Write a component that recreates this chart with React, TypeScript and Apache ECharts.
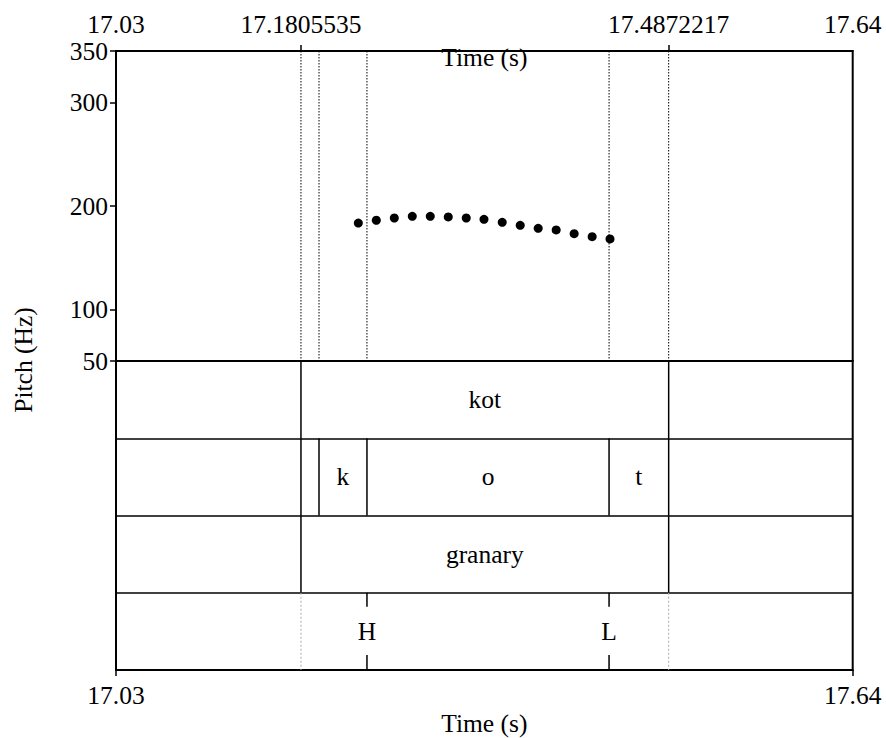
import React, { useEffect, useRef } from "react";
import * as echarts from "echarts";

// ---- time axis ----
const T_MIN = 17.0263;
const T_MAX = 17.6407;
const B1 = 17.1805535;
const B2 = 17.4872217;

const topTickValues = [T_MIN, B1, B2, T_MAX];
const topTickLabels = ["17.03", "17.1805535", "17.4872217", "17.64"];
const topTickMarks = [B1, B2];
const bottomTickValues = [T_MIN, T_MAX];
const bottomTickLabels = ["17.03", "17.64"];

// ---- pitch axis ----
const pitchTicks = [50, 100, 200, 300, 350];

// ---- pitch track ----
const pitchTimes = [
  17.2284, 17.2434, 17.2584, 17.2734, 17.2884, 17.3034, 17.3184, 17.3332,
  17.3484, 17.3634, 17.3784, 17.3934, 17.4084, 17.4234, 17.4383,
];
const pitchValues = [
  183.5, 186.2, 188.4, 190.0, 190.0, 189.4, 188.4, 187.1, 184.2, 181.3, 178.4,
  176.8, 173.2, 170.3, 168.1,
];

// ---- TextGrid tiers: [start, end, label] ----
const syllableTier: [number, number, string][] = [
  [T_MIN, B1, ""],
  [B1, B2, "kot"],
  [B2, T_MAX, ""],
];
const segmentTier: [number, number, string][] = [
  [T_MIN, B1, ""],
  [B1, 17.1956, ""],
  [17.1956, 17.2356, "k"],
  [17.2356, 17.4375, "o"],
  [17.4375, B2, "t"],
  [B2, T_MAX, ""],
];
const glossTier: [number, number, string][] = [
  [T_MIN, B1, ""],
  [B1, B2, "granary"],
  [B2, T_MAX, ""],
];
// point tier: [time, label]
const toneTier: [number, string][] = [
  [17.2356, "H"],
  [17.4375, "L"],
];
const toneTierGuides = [B1, B2];
// dotted lines through the pitch panel
const pitchGuides = [B1, 17.1956, 17.2356, 17.4375, B2];

const FONT = "Liberation Serif";
const FS = 25.5;

export default function App() {
  const ref = useRef<HTMLDivElement>(null);

  useEffect(() => {
    if (!ref.current) return;
    const chart = echarts.init(ref.current, undefined, { renderer: "svg" });

    const tiers = [
      { row: 3, items: syllableTier },
      { row: 2, items: segmentTier },
      { row: 1, items: glossTier },
    ];
    const intervalData: number[][] = [];
    const intervalLabels: string[] = [];
    tiers.forEach((t) => {
      t.items.forEach(([s, e, lab]) => {
        intervalData.push([s, e, t.row]);
        intervalLabels.push(lab);
      });
    });

    const nearestLabel = (v: number, vals: number[], labs: string[]) => {
      let best = 0;
      for (let i = 1; i < vals.length; i++) {
        if (Math.abs(vals[i] - v) < Math.abs(vals[best] - v)) best = i;
      }
      return labs[best];
    };

    const txt = (text: string, x: number, y: number, extra: any = {}) => ({
      type: "text",
      x,
      y,
      ...extra,
      style: {
        text,
        fontSize: FS,
        fontFamily: FONT,
        fill: "#000",
        align: "center",
        verticalAlign: "middle",
      },
    });

    const option: any = {
      animation: false,
      backgroundColor: "#fff",
      textStyle: { fontFamily: FONT, color: "#000", fontSize: FS },
      grid: [
        {
          left: 116,
          top: 51,
          width: 736.7,
          height: 310,
          show: true,
          borderColor: "#000",
          borderWidth: 2,
          outerBoundsMode: "none",
        },
        {
          left: 116,
          top: 361,
          width: 736.7,
          height: 309,
          show: true,
          borderColor: "#000",
          borderWidth: 2,
          outerBoundsMode: "none",
        },
      ],
      xAxis: [
        {
          type: "value",
          gridIndex: 0,
          position: "top",
          min: T_MIN,
          max: T_MAX,
          axisLine: { show: true, lineStyle: { color: "#000", width: 2 } },
          axisTick: {
            show: true,
            customValues: topTickMarks,
            length: 6,
            lineStyle: { color: "#000", width: 1.5 },
          },
          axisLabel: {
            show: true,
            customValues: topTickValues,
            margin: 14,
            fontSize: FS,
            fontFamily: FONT,
            color: "#000",
            formatter: (v: number) => nearestLabel(v, topTickValues, topTickLabels),
          },
          splitLine: { show: false },
        },
        {
          type: "value",
          gridIndex: 1,
          position: "bottom",
          min: T_MIN,
          max: T_MAX,
          name: "Time (s)",
          nameLocation: "middle",
          nameGap: 40,
          nameTextStyle: { fontSize: FS, fontFamily: FONT, color: "#000" },
          axisLine: { show: true, lineStyle: { color: "#000", width: 2 } },
          axisTick: {
            show: true,
            customValues: bottomTickValues,
            length: 6,
            lineStyle: { color: "#000", width: 1.5 },
          },
          axisLabel: {
            show: true,
            customValues: bottomTickValues,
            margin: 12,
            fontSize: FS,
            fontFamily: FONT,
            color: "#000",
            formatter: (v: number) => nearestLabel(v, bottomTickValues, bottomTickLabels),
          },
          splitLine: { show: false },
        },
      ],
      yAxis: [
        {
          type: "value",
          gridIndex: 0,
          min: 50,
          max: 350,
          axisLine: { show: true, lineStyle: { color: "#000", width: 2 } },
          axisTick: {
            show: true,
            customValues: pitchTicks,
            length: 6,
            lineStyle: { color: "#000", width: 1.5 },
          },
          axisLabel: {
            show: true,
            customValues: pitchTicks,
            margin: 8,
            fontSize: FS,
            fontFamily: FONT,
            color: "#000",
          },
          splitLine: { show: false },
        },
        {
          type: "value",
          gridIndex: 1,
          min: 0,
          max: 4,
          interval: 1,
          axisLine: { show: true, lineStyle: { color: "#000", width: 2 } },
          axisTick: { show: false },
          axisLabel: { show: false },
          splitLine: { show: true, lineStyle: { color: "#000", width: 1.5 } },
        },
      ],
      graphic: [
        txt("Pitch (Hz)", 23, 360, { rotation: Math.PI / 2 }),
        txt("Time (s)", 484.4, 57),
      ],
      series: [
        {
          type: "custom",
          xAxisIndex: 0,
          yAxisIndex: 0,
          data: pitchGuides.map((t) => [t, 50]),
          encode: { x: 0, y: 1 },
          silent: true,
          z: 1,
          renderItem: (params: any, api: any) => {
            const pb = api.coord([api.value(0), 50]);
            const pt = api.coord([api.value(0), 350]);
            return {
              type: "line",
              shape: { x1: pb[0], y1: pt[1], x2: pb[0], y2: pb[1] },
              style: { stroke: "#000", lineWidth: 1, lineDash: [1.5, 1.5] },
            };
          },
        },
        {
          type: "scatter",
          xAxisIndex: 0,
          yAxisIndex: 0,
          data: pitchTimes.map((t, i) => [t, pitchValues[i]]),
          symbol: "circle",
          symbolSize: 9,
          itemStyle: { color: "#000", opacity: 1 },
          silent: true,
          z: 3,
        },
        {
          type: "custom",
          xAxisIndex: 1,
          yAxisIndex: 1,
          data: intervalData,
          encode: { x: [0, 1], y: 2 },
          silent: true,
          renderItem: (params: any, api: any) => {
            const s = api.value(0);
            const e = api.value(1);
            const row = api.value(2);
            const p0 = api.coord([s, row]);
            const p1 = api.coord([e, row + 1]);
            const children: any[] = [];
            if (s > T_MIN + 1e-6) {
              children.push({
                type: "line",
                shape: { x1: p0[0], y1: p0[1], x2: p0[0], y2: p1[1] },
                style: { stroke: "#000", lineWidth: 1.5 },
              });
            }
            const lab = intervalLabels[params.dataIndex];
            if (lab) {
              children.push(txt(lab, (p0[0] + p1[0]) / 2, (p0[1] + p1[1]) / 2));
            }
            return { type: "group", children };
          },
        },
        {
          type: "custom",
          xAxisIndex: 1,
          yAxisIndex: 1,
          data: toneTierGuides.map((t) => [t, 0]),
          encode: { x: 0, y: 1 },
          silent: true,
          renderItem: (params: any, api: any) => {
            const pb = api.coord([api.value(0), 0]);
            const pt = api.coord([api.value(0), 1]);
            return {
              type: "line",
              shape: { x1: pb[0], y1: pt[1], x2: pb[0], y2: pb[1] },
              style: { stroke: "#aaaaaa", lineWidth: 1, lineDash: [2, 2] },
            };
          },
        },
        {
          type: "custom",
          xAxisIndex: 1,
          yAxisIndex: 1,
          data: toneTier.map(([t]) => [t, 0]),
          encode: { x: 0, y: 1 },
          silent: true,
          renderItem: (params: any, api: any) => {
            const pb = api.coord([api.value(0), 0]);
            const pt = api.coord([api.value(0), 1]);
            const x = pb[0];
            return {
              type: "group",
              children: [
                {
                  type: "line",
                  shape: { x1: x, y1: pt[1], x2: x, y2: pt[1] + 14 },
                  style: { stroke: "#000", lineWidth: 1.5 },
                },
                {
                  type: "line",
                  shape: { x1: x, y1: pb[1] - 15, x2: x, y2: pb[1] },
                  style: { stroke: "#000", lineWidth: 1.5 },
                },
                txt(toneTier[params.dataIndex][1], x, (pb[1] + pt[1]) / 2),
              ],
            };
          },
        },
      ],
    };

    chart.setOption(option);
    return () => chart.dispose();
  }, []);

  return (
    <div
      ref={ref}
      style={{
        position: "fixed",
        left: 0,
        top: 0,
        width: 886,
        height: 738,
        background: "#fff",
      }}
    />
  );
}
